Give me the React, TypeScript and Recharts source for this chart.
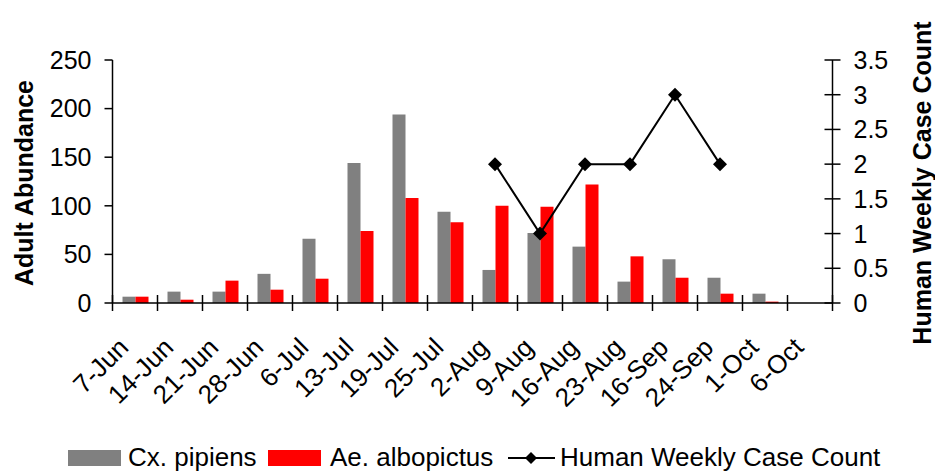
import { ComposedChart, Bar, Line, XAxis, YAxis, Legend } from 'recharts'

const dates = ['7-Jun', '14-Jun', '21-Jun', '28-Jun', '6-Jul', '13-Jul', '19-Jul', '25-Jul', '2-Aug', '9-Aug', '16-Aug', '23-Aug', '16-Sep', '24-Sep', '1-Oct', '6-Oct']
const pipiens = [6.5, 11.7, 11.7, 30, 66, 144, 194, 94, 34, 72, 58, 22, 45, 26, 9.6, 0]
const albopictus = [6.5, 3.4, 23, 13.7, 25, 74, 108, 83, 100, 99, 122, 48, 26, 9.6, 1.4, 0]
const cases: (number | null)[] = [null, null, null, null, null, null, null, null, 2, 1, 2, 2, 3, 2, null, null]
const leftTicks = [0, 50, 100, 150, 200, 250]
const rightTicks = [0, 0.5, 1, 1.5, 2, 2.5, 3, 3.5]

const GRAY = '#808080'
const RED = '#ff0000'
const FONT = '"Liberation Sans", Arial, sans-serif'

const data = dates.map((d, i) => ({
    date: d,
    pipiens: pipiens[i],
    albopictus: albopictus[i],
    cases: cases[i],
}))

// excel style: tick marks sit on category boundaries
const DateTick = (props: any) => {
    const { x, y, payload, index } = props
    const half = 22.5
    const tx = x - 5
    const ty = y + 38
    return (
        <g>
            <line x1={x - half} x2={x - half} y1={y - 16} y2={y} stroke="#000" strokeWidth={1.5} />
            {index === dates.length - 1 && (
                <line x1={x + half} x2={x + half} y1={y - 16} y2={y} stroke="#000" strokeWidth={1.5} />
            )}
            <text x={tx} y={ty} textAnchor="end" fontSize={26} fill="#000" fontFamily={FONT}
                transform={`rotate(-45 ${tx} ${ty})`}>
                {payload.value}
            </text>
        </g>
    )
}

const RightTick = (props: any) => {
    const { x, y, payload } = props
    const ax = x - 21
    return (
        <g>
            <line x1={ax - 8} x2={ax + 8} y1={y} y2={y} stroke="#000" strokeWidth={1.5} />
            <text x={x} y={y} dy="0.36em" textAnchor="start" fontSize={25} fill="#000" fontFamily={FONT}>
                {payload.value}
            </text>
        </g>
    )
}

const Diamond = (props: any) => {
    const { cx, cy, payload } = props
    if (payload.cases === null || cx == null || cy == null) return null
    const r = 7
    return <polygon points={`${cx},${cy - r} ${cx + r},${cy} ${cx},${cy + r} ${cx - r},${cy}`} fill="#000" />
}

const LegendBox = () => (
    <svg width={935} height={36} style={{ display: 'block' }}>
        <rect x={68} y={12} width={53} height={16} fill={GRAY} />
        <text x={128} y={28} fontSize={26} fontFamily={FONT} fill="#000">Cx. pipiens</text>
        <rect x={268} y={12} width={53} height={16} fill={RED} />
        <text x={330} y={28} fontSize={26} fontFamily={FONT} fill="#000">Ae. albopictus</text>
        <line x1={508} x2={555} y1={20} y2={20} stroke="#000" strokeWidth={2} />
        <polygon points="531,14 537,20 531,26 525,20" fill="#000" />
        <text x={560} y={28} fontSize={26} fontFamily={FONT} fill="#000">Human Weekly Case Count</text>
    </svg>
)

export default function App() {
    return (
        <div style={{ position: 'absolute', left: 0, top: 0, width: 935, height: 474, background: '#fff', fontFamily: FONT }}>
            <ComposedChart width={935} height={474} data={data} barGap={0}
                margin={{ top: 60, right: 0, bottom: 0, left: 0 }}>
                <XAxis dataKey="date" height={171} interval={0} tickLine={false} tickSize={8} tickMargin={0}
                    axisLine={{ stroke: '#000', strokeWidth: 1.5 }} tick={<DateTick />} />
                <YAxis yAxisId="left" width={112.5} domain={[0, 250]} ticks={leftTicks} tickSize={8} tickMargin={13}
                    axisLine={{ stroke: '#000', strokeWidth: 1.5 }} tickLine={{ stroke: '#000', strokeWidth: 1.5 }}
                    tick={{ fontSize: 25, fill: '#000', fontFamily: FONT }}
                    label={{
                        content: () => (
                            <text x={24} y={183} textAnchor="middle" dominantBaseline="central" fontSize={25}
                                fontWeight="bold" fontFamily={FONT} fill="#000" transform="rotate(-90 24 183)">
                                Adult Abundance
                            </text>
                        ),
                    }} />
                <YAxis yAxisId="right" orientation="right" width={102.5} domain={[0, 3.5]} ticks={rightTicks}
                    tickSize={8} tickMargin={13} tickLine={false}
                    axisLine={{ stroke: '#000', strokeWidth: 1.5 }} tick={<RightTick />}
                    label={{
                        content: () => (
                            <text x={922} y={183} textAnchor="middle" dominantBaseline="central" fontSize={25}
                                fontWeight="bold" fontFamily={FONT} fill="#000" transform="rotate(-90 922 183)">
                                Human Weekly Case Count
                            </text>
                        ),
                    }} />
                <Legend layout="horizontal" verticalAlign="middle" align="center" content={<LegendBox />}
                    wrapperStyle={{ top: 438, left: 0, width: 935, height: 36 }} />
                <Bar yAxisId="left" dataKey="pipiens" name="Cx. pipiens" fill={GRAY} barSize={13} isAnimationActive={false} />
                <Bar yAxisId="left" dataKey="albopictus" name="Ae. albopictus" fill={RED} barSize={13} isAnimationActive={false} />
                <Line yAxisId="right" dataKey="cases" name="Human Weekly Case Count" type="linear" stroke="#000"
                    strokeWidth={2} dot={<Diamond />} activeDot={false} isAnimationActive={false} />
            </ComposedChart>
        </div>
    )
}
